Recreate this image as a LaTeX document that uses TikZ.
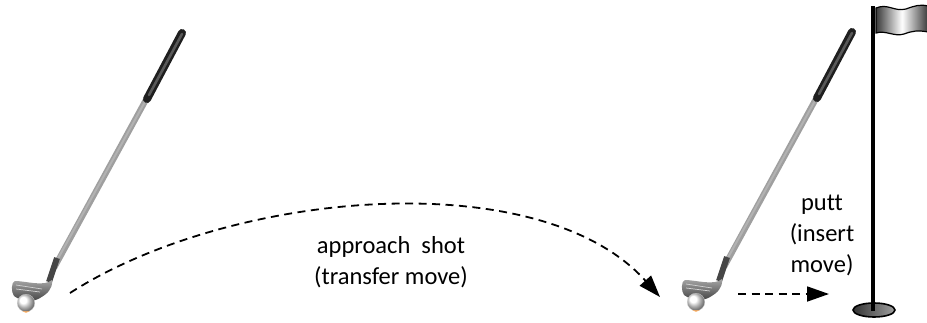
\documentclass[tikz,border=0pt]{standalone}
\usepackage{fontspec}
\setmainfont[Ligatures=CommonOff]{Carlito}
\usetikzlibrary{arrows.meta}

\tikzset{
  shot/.style={dashed, dash pattern=on 8pt off 5.5pt, line width=1.8pt,
    -{Triangle[length=22pt,width=15pt]}},
  caption/.style={font=\fontsize{24.5}{31}\selectfont, align=center, inner sep=0pt,
    anchor=base},
  pics/golfclub/.style={code={
    % shaft
    \draw[line width=6pt, gray!75] (183,32) -- (54,268);
    \draw[line width=2pt, gray!60] (182,35) -- (55,264);
    % grip
    \draw[line width=8pt, line cap=round, black!88] (182,33) -- (147,99);
    \draw[line width=2.5pt, line cap=round, black!65] (182,34) -- (149,95);
    % hosel
    \draw[line width=6pt, gray!55!black] (57,258) -- (49,282);
    % club head
    \shade[top color=gray!70, bottom color=gray!50!black]
      (52,280) .. controls (44,287) and (26,281) .. (15,281)
      .. controls (11,282) and (11,292) .. (14,296)
      .. controls (22,302) and (34,302) .. (40,298)
      .. controls (47,294) and (53,289) .. cycle;
    \draw[gray!35, line width=0.7pt] (16,285) -- (42,289) (16,289) -- (40,292);
    % ball
    \shade[ball color=white, draw=gray!35, line width=0.3pt] (26,303) circle[radius=8.8];
    \fill[orange!75] (22.5,311.4) -- (29.5,311.4) -- (26,312.7) -- cycle;
  }}
}

\begin{document}
\begin{tikzpicture}[x=1pt, y=-1pt]
  \useasboundingbox (0,0) rectangle (927,322);

  % two clubs with balls
  \pic at (0,0) {golfclub};
  \pic at (670,-1) {golfclub};

  % hole and flag
  \shade[left color=gray!40!black, right color=gray!75, draw=black, line width=1.6pt]
    (874,310) ellipse[x radius=21, y radius=7];
  \shade[left color=gray!45!black, right color=gray!45!black, middle color=white,
         draw=black, line width=1.2pt]
    (876,8) .. controls (888,3) and (894,12) .. (906,9)
    .. controls (914,6) and (920,4) .. (928,6)
    -- (928,32) .. controls (918,30) and (912,31) .. (904,34)
    .. controls (894,37) and (886,30) .. (876,33) -- cycle;
  \fill[black] (871,6) rectangle (875,311);

  % ball positions
  \coordinate (tee) at (70,293);
  \coordinate (green) at (660,297);
  \coordinate (putstart) at (738,294);
  \coordinate (cup) at (829,294);

  % shots
  \draw[shot] (tee) .. controls (230,190) and (540,163) .. (green);
  \draw[shot] (putstart) -- (cup);

  % labels (anchored at the last baseline)
  \node[caption] (approach) at (391,284) {approach\ \ shot\\(transfer move)};
  \node[caption] (putt) at (822,272) {putt\\(insert\\move)};
\end{tikzpicture}
\end{document}
